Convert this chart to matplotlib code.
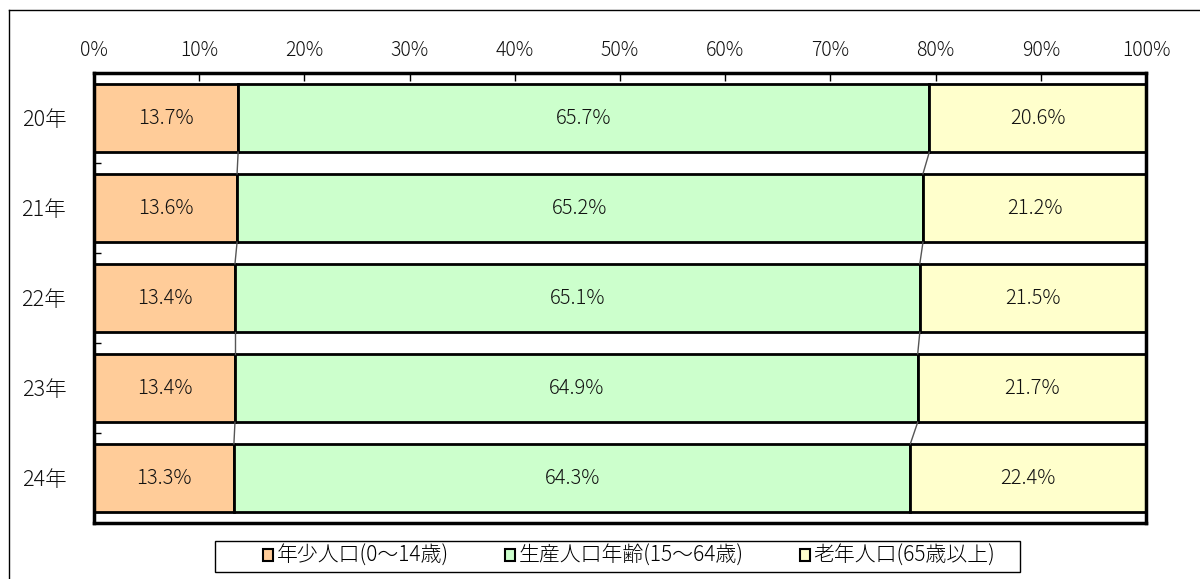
import matplotlib
matplotlib.use("Agg")
import matplotlib.pyplot as plt
from matplotlib.lines import Line2D
from matplotlib.patches import Patch, Rectangle
import numpy as np

plt.rcParams['font.family'] = ['Noto Sans CJK JP', 'DejaVu Sans']

years = ["20年", "21年", "22年", "23年", "24年"]
series_names = ["年少人口(0～14歳)", "生産人口年齢(15～64歳)", "老年人口(65歳以上)"]
young = [13.7, 13.6, 13.4, 13.4, 13.3]
working = [65.7, 65.2, 65.1, 64.9, 64.3]
elderly = [20.6, 21.2, 21.5, 21.7, 22.4]
colors = ["#FFCC99", "#CCFFCC", "#FFFFCC"]
xticks = [0, 10, 20, 30, 40, 50, 60, 70, 80, 90, 100]

W, H = 1200, 579
fig = plt.figure(figsize=(W / 100, H / 100), dpi=100)
ax = fig.add_axes([94 / W, 1 - 523 / H, (1146 - 94) / W, (523 - 73) / H])

data = [young, working, elderly]
y = np.arange(len(years))
bar_h = 0.76
left = np.zeros(len(years))
for vals, col in zip(data, colors):
    vals = np.array(vals)
    ax.barh(y, vals, left=left, height=bar_h, color=col, edgecolor='black', linewidth=2)
    for yi, (l, v) in enumerate(zip(left, vals)):
        ax.text(l + v / 2, yi, f"{v:.1f}%", ha='center', va='center', fontsize=14.5,
                color='#111111', fontweight='light')
    left = left + vals

# series lines between bars
cum1 = np.array(young)
cum2 = np.array(young) + np.array(working)
for cum in (cum1, cum2):
    for i in range(len(years) - 1):
        ax.plot([cum[i], cum[i + 1]], [i + bar_h / 2, i + 1 - bar_h / 2], color='#555555', linewidth=1)

ax.set_xlim(0, 100)
ax.set_ylim(len(years) - 0.5, -0.5)
ax.xaxis.tick_top()
ax.set_xticks(xticks)
ax.set_xticklabels([f"{t}%" for t in xticks], fontsize=14, fontweight='light', color='#111111')
ax.tick_params(axis='x', direction='in', length=6, width=1, pad=9, top=True, bottom=False)
ax.set_yticks(y)
ax.set_yticklabels(years, fontsize=15.5, fontweight='light', color='#111111')
ax.tick_params(axis='y', which='major', length=0, pad=20)
ax.set_yticks(np.arange(0.5, len(years) - 0.5, 1), minor=True)
ax.tick_params(axis='y', which='minor', direction='in', length=5, width=1)
for s in ax.spines.values():
    s.set_linewidth(2.5)
    s.set_color('black')

# outer border (left and top)
fig.add_artist(Line2D([9 / W, 9 / W], [0, 1 - 10 / H], color='black', linewidth=1, transform=fig.transFigure))
fig.add_artist(Line2D([9 / W, 1], [1 - 10 / H, 1 - 10 / H], color='black', linewidth=1, transform=fig.transFigure))

# legend box
fig.add_artist(Rectangle((215 / W, 1 - 572 / H), (1020 - 215) / W, 31 / H, transform=fig.transFigure,
                         facecolor='white', edgecolor='black', linewidth=1))
handles = [Patch(facecolor=c, edgecolor='black', linewidth=1.5) for c in colors]
leg = fig.legend(handles, series_names, loc='center', bbox_to_anchor=(629 / W, 1 - 556 / H),
                 ncol=3, frameon=False,
                 prop={'size': 15, 'weight': 'light'},
                 handlelength=0.5, handleheight=0.5, handletextpad=0.15, columnspacing=2.7,
                 borderpad=0.15, borderaxespad=0)

fig.savefig("out.png", dpi=100)
